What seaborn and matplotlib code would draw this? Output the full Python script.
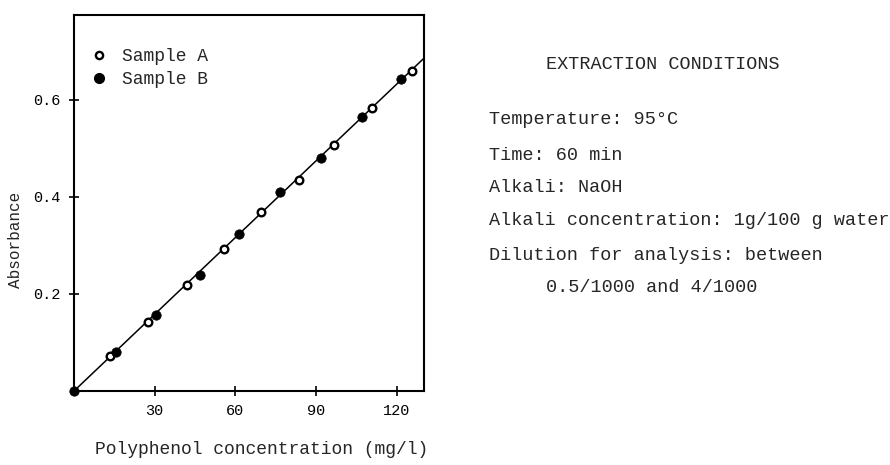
import matplotlib
matplotlib.use("Agg")
import matplotlib.pyplot as plt
import seaborn as sns
import pandas as pd
from matplotlib.lines import Line2D

# ---- data ----
conc_a = [13.4, 27.6, 42.0, 55.9, 69.5, 83.6, 96.8, 111.0, 125.8]
abs_a = [0.072, 0.142, 0.219, 0.293, 0.368, 0.434, 0.507, 0.583, 0.660]
conc_b = [0.0, 15.5, 30.4, 46.8, 61.3, 76.6, 91.7, 107.1, 121.8]
abs_b = [0.0, 0.081, 0.156, 0.239, 0.324, 0.410, 0.480, 0.564, 0.643]
fit_x = [0.0, 130.2]
fit_y = [0.0, 0.686]
x_ticks = [30, 60, 90, 120]
y_ticks = [0.2, 0.4, 0.6]
y_tick_labels = ["0.2", "0.4", "0.6"]
legend_labels = ["Sample A", "Sample B"]
x_label = "Polyphenol concentration (mg/l)"
y_label = "Absorbance"
conditions_title = "EXTRACTION CONDITIONS"
conditions = [
    "Temperature: 95\u00b0C",
    "Time: 60 min",
    "Alkali: NaOH",
    "Alkali concentration: 1g/100 g water",
    "Dilution for analysis: between",
]
conditions_cont = "0.5/1000 and 4/1000"

df_a = pd.DataFrame({"conc": conc_a, "abs": abs_a})
df_b = pd.DataFrame({"conc": conc_b, "abs": abs_b})
df_fit = pd.DataFrame({"conc": fit_x, "abs": fit_y})

sns.set_theme(style="white")
MONO = ["Liberation Mono", "DejaVu Sans Mono"]
plt.rcParams["font.family"] = MONO

W, H = 890, 465
fig = plt.figure(figsize=(W / 100, H / 100), dpi=100)
ax = fig.add_axes([74 / W, 1 - 391 / H, 350 / W, 376 / H])

sns.lineplot(data=df_fit, x="conc", y="abs", ax=ax, color="black",
             linewidth=1.1, zorder=2)
sns.scatterplot(data=df_a, x="conc", y="abs", ax=ax, marker="o", s=30,
                facecolor="white", edgecolor="black", linewidth=1.7,
                zorder=3, clip_on=False)
sns.scatterplot(data=df_b, x="conc", y="abs", ax=ax, marker="o", s=46,
                color="black", edgecolor="black", linewidth=0.5,
                zorder=3, clip_on=False)

ax.set_xlim(0, 130.2)
ax.set_ylim(0, 0.775)
ax.set_xticks(x_ticks)
ax.set_xticklabels([str(t) for t in x_ticks], fontsize=11)
ax.set_yticks(y_ticks)
ax.set_yticklabels(y_tick_labels, fontsize=11)
ax.tick_params(direction="inout", length=7, width=1.2, colors="black",
               pad=6, left=True, bottom=True)
for sp in ax.spines.values():
    sp.set_visible(True)
    sp.set_color("black")
    sp.set_linewidth(1.5)
ax.set_xlabel("")
ax.set_ylabel("")

fig.text(262 / W, 1 - 449 / H, x_label, fontsize=13, ha="center",
         va="center")
fig.text(16 / W, 1 - 240 / H, y_label, fontsize=11.5, ha="center",
         va="center", rotation=90)

handles = [
    Line2D([], [], marker="o", linestyle="none", markersize=5.2,
           markerfacecolor="white", markeredgecolor="black",
           markeredgewidth=1.7),
    Line2D([], [], marker="o", linestyle="none", markersize=7,
           markerfacecolor="black", markeredgecolor="black"),
]
ax.legend(handles, legend_labels, loc="upper left",
          bbox_to_anchor=(0.0, 0.955), frameon=False,
          prop={"family": MONO, "size": 13}, handlelength=1.0,
          handletextpad=0.75, labelspacing=0.35, borderaxespad=0.5)

fs = 13.3
fig.text(546 / W, 1 - 64 / H, conditions_title, fontsize=fs,
         va="center", ha="left")
ys = [120, 155, 187, 220, 255]
for y, t in zip(ys, conditions):
    fig.text(489 / W, 1 - y / H, t, fontsize=fs, va="center", ha="left")
fig.text(546 / W, 1 - 287 / H, conditions_cont, fontsize=fs,
         va="center", ha="left")

fig.savefig("out.png", dpi=100, facecolor="white")
